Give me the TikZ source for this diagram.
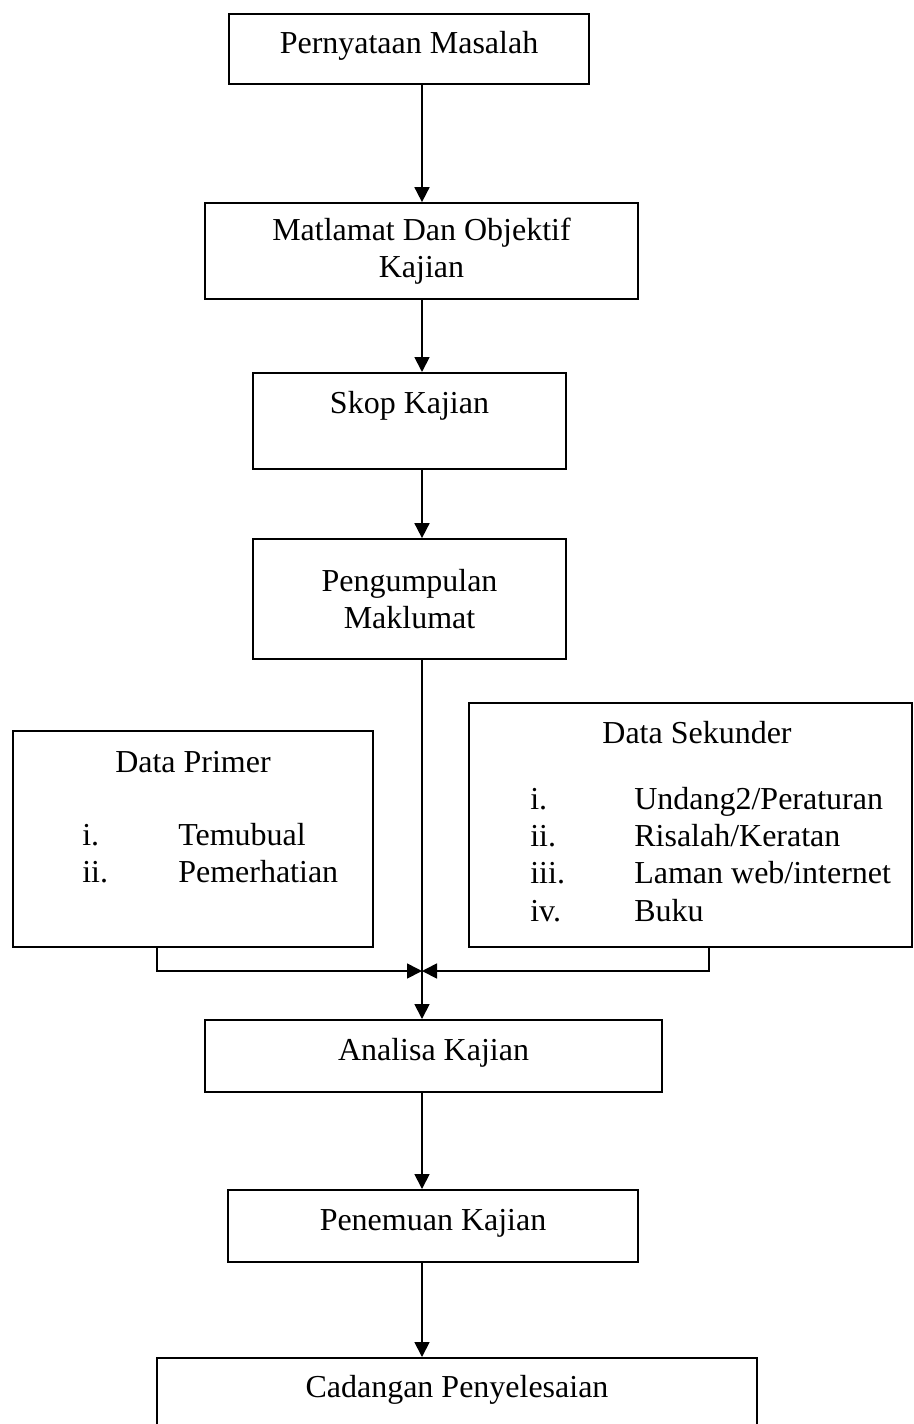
\documentclass[tikz,border=0pt]{standalone}
\usepackage{fontspec}
\setmainfont{Liberation Serif}
\usepackage{tikz}
\usetikzlibrary{positioning,arrows.meta}

\begin{document}
\begin{tikzpicture}[
    box/.style={rectangle, draw=black, line width=1pt, inner sep=0pt,
        font=\fontsize{18.2}{21.3}\selectfont},
    txt/.style={inner sep=0pt, font=\fontsize{18.2}{21.3}\selectfont},
    arr/.style={-{Triangle[length=0.3cm,width=0.3cm]}, line width=1pt}
]
\useasboundingbox (0,0) rectangle (18.26,-28.48);
\coordinate (spine) at (8.44,0);
\node[box, anchor=north, minimum width=7.2cm, text height=0.8cm, text depth=0.6cm] (masalah) at (8.18,-0.26) {Pernyataan Masalah};
\node[box, align=center, minimum width=8.66cm, minimum height=1.92cm] (matlamat) at (8.43,-5.02) {Matlamat Dan Objektif\\Kajian};
\node[box, anchor=north, minimum width=6.26cm, text height=0.82cm, text depth=1.1cm] (skop) at (8.19,-7.44) {Skop Kajian};
\node[box, align=center, minimum width=6.26cm, minimum height=2.4cm] (kumpul) at (8.19,-11.98) {Pengumpulan\\Maklumat};
\node[box, minimum width=7.2cm, minimum height=4.32cm] (primer) at (3.86,-16.78) {};
\node[box, minimum width=8.86cm, minimum height=4.88cm] (sekunder) at (13.81,-16.5) {};
\node[txt, anchor=base] (primertitle) at (3.86,-15.44) {Data Primer};
\node[txt, anchor=base west] (primerlist) at (1.64,-16.9)
    {\begin{tabular}[t]{@{}p{1.92cm}@{}l@{}}i. & Temubual\\ ii. & Pemerhatian\end{tabular}};
\node[txt, anchor=base] (sekundertitle) at (13.94,-14.86) {Data Sekunder};
\node[txt, anchor=base west] (sekunderlist) at (10.6,-16.18)
    {\begin{tabular}[t]{@{}p{2.08cm}@{}l@{}}i. & Undang2/Peraturan\\ ii. & Risalah/Keratan\\ iii. & Laman web/internet\\ iv. & Buku\end{tabular}};
\node[box, anchor=north, minimum width=9.14cm, text height=0.82cm, text depth=0.62cm] (analisa) at (8.67,-20.38) {Analisa Kajian};
\node[box, anchor=north, minimum width=8.2cm, text height=0.82cm, text depth=0.62cm] (penemuan) at (8.66,-23.78) {Penemuan Kajian};
\node[box, anchor=north, minimum width=12cm, text height=0.8cm, text depth=0.9cm] (cadangan) at (9.14,-27.14) {Cadangan Penyelesaian};
\coordinate (leftdrop) at (3.14,-19.42);
\coordinate (rightdrop) at (14.18,-19.42);
\draw[arr] (masalah.south -| spine) -- (matlamat.north -| spine);
\draw[arr] (matlamat.south -| spine) -- (skop.north -| spine);
\draw[arr] (skop.south -| spine) -- (kumpul.north -| spine);
\draw[arr] (kumpul.south -| spine) -- (analisa.north -| spine);
\draw[arr] (leftdrop |- primer.south) -- (leftdrop) -- (leftdrop -| spine);
\draw[arr] (rightdrop |- sekunder.south) -- (rightdrop) -- (rightdrop -| spine);
\draw[arr] (analisa.south -| spine) -- (penemuan.north -| spine);
\draw[arr] (penemuan.south -| spine) -- (cadangan.north -| spine);
\end{tikzpicture}
\end{document}
